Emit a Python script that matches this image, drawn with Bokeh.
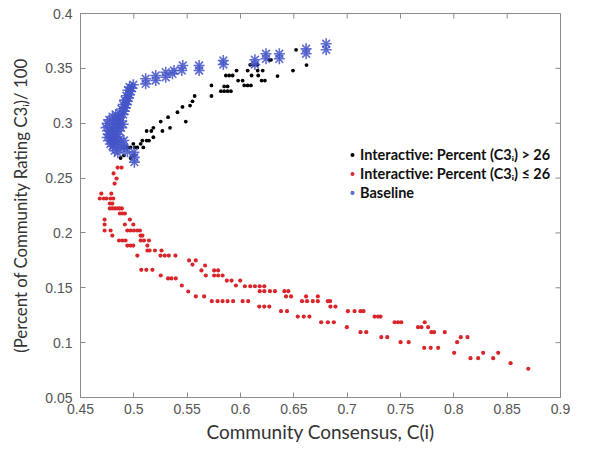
import math
from bokeh.plotting import figure
from bokeh.models import Range1d, FixedTicker, Legend, LegendItem
from bokeh.embed import file_html
from bokeh.resources import INLINE

# ---------------- data ----------------
x_ticks = [0.45, 0.5, 0.55, 0.6, 0.65, 0.7, 0.75, 0.8, 0.85, 0.9]
x_tick_labels = ["0.45", "0.5", "0.55", "0.6", "0.65", "0.7", "0.75", "0.8", "0.85", "0.9"]
y_ticks = [0.05, 0.1, 0.15, 0.2, 0.25, 0.3, 0.35, 0.4]
y_tick_labels = ["0.05", "0.1", "0.15", "0.2", "0.25", "0.3", "0.35", "0.4"]

x_label = "Community Consensus, C(i)"
y_label = "(Percent of Community Rating C3ᵢ)/ 100"
legend_labels = ["Interactive: Percent (C3ᵢ) > 26",
                 "Interactive: Percent (C3ᵢ) ≤ 26",
                 "Baseline"]

black_points = [
    (0.6521, 0.3669), (0.6619, 0.3530), (0.6492, 0.3480), (0.6347, 0.3430),
    (0.6270, 0.3578), (0.6286, 0.3578),
    (0.6091, 0.3532), (0.6126, 0.3532), (0.6159, 0.3532),
    (0.5963, 0.3480), (0.6067, 0.3480), (0.6161, 0.3480), (0.6208, 0.3480),
    (0.5863, 0.3435), (0.5894, 0.3435), (0.5926, 0.3435), (0.6104, 0.3435), (0.6166, 0.3435),
    (0.5978, 0.3389), (0.6020, 0.3389), (0.6198, 0.3389), (0.6229, 0.3389),
    (0.6035, 0.3344), (0.6067, 0.3344), (0.6098, 0.3344), (0.5728, 0.3344),
    (0.5847, 0.3335), (0.5879, 0.3335),
    (0.5816, 0.3292), (0.5847, 0.3292), (0.5879, 0.3292), (0.5910, 0.3292),
    (0.5728, 0.3248), (0.5570, 0.3248),
    (0.5550, 0.3200), (0.5527, 0.3161), (0.5456, 0.3148), (0.5409, 0.3100),
    (0.5487, 0.3015), (0.5321, 0.3055), (0.5252, 0.3015), (0.5339, 0.2958),
    (0.5268, 0.2929), (0.5183, 0.2958), (0.5164, 0.2929), (0.5120, 0.2929),
    (0.5183, 0.2872), (0.5142, 0.2842), (0.5120, 0.2842), (0.5080, 0.2842),
    (0.5064, 0.2812), (0.5033, 0.2779), (0.5089, 0.2779), (0.5010, 0.2779),
    (0.4995, 0.2812), (0.4970, 0.2779), (0.4939, 0.2779), (0.4907, 0.2706),
    (0.4876, 0.2683), (0.5001, 0.2706), (0.4970, 0.2683),
]

red_points = [
    (0.4848, 0.2596), (0.4885, 0.2596), (0.4810, 0.2542), (0.4838, 0.2496), (0.4820, 0.2450),
    (0.4695, 0.2359), (0.4789, 0.2359),
    (0.4681, 0.2314), (0.4719, 0.2314), (0.4744, 0.2314), (0.4782, 0.2314), (0.4807, 0.2314),
    (0.4775, 0.2268), (0.4798, 0.2268),
    (0.4775, 0.2223), (0.4798, 0.2223), (0.4822, 0.2223), (0.4845, 0.2223), (0.4866, 0.2223), (0.4888, 0.2223),
    (0.4869, 0.2177), (0.4892, 0.2177), (0.4916, 0.2177),
    (0.4726, 0.2122), (0.4963, 0.2122),
    (0.4726, 0.2077), (0.4916, 0.2077), (0.4995, 0.2077),
    (0.4726, 0.2022), (0.4782, 0.2022), (0.4939, 0.2022), (0.4970, 0.2022), (0.5001, 0.2022),
    (0.5033, 0.2022), (0.5057, 0.2022),
    (0.4798, 0.1976), (0.5064, 0.1976), (0.5080, 0.1976),
    (0.4861, 0.1931), (0.4892, 0.1931), (0.4923, 0.1931), (0.5064, 0.1931), (0.5095, 0.1931), (0.5142, 0.1931),
    (0.4939, 0.1885), (0.4970, 0.1885), (0.4995, 0.1885), (0.5127, 0.1885),
    (0.5127, 0.1840), (0.5148, 0.1840), (0.5198, 0.1840), (0.5260, 0.1840),
    (0.5033, 0.1794), (0.5250, 0.1794), (0.5290, 0.1794), (0.5328, 0.1794), (0.5390, 0.1794),
    (0.5518, 0.1749), (0.5581, 0.1749), (0.5550, 0.1712), (0.5668, 0.1703), (0.5634, 0.1658),
    (0.5070, 0.1664), (0.5117, 0.1664), (0.5174, 0.1664), (0.5252, 0.1612),
    (0.5321, 0.1585), (0.5352, 0.1585), (0.5393, 0.1585),
    (0.5450, 0.1521), (0.5510, 0.1466), (0.5581, 0.1421),
    (0.5675, 0.1612), (0.5753, 0.1658), (0.5790, 0.1658), (0.5753, 0.1612), (0.5790, 0.1612), (0.5832, 0.1612),
    (0.5872, 0.1566), (0.5916, 0.1566), (0.5997, 0.1566), (0.5957, 0.1521),
    (0.6041, 0.1514), (0.6091, 0.1514), (0.6135, 0.1514), (0.6180, 0.1514), (0.6223, 0.1514),
    (0.6180, 0.1469), (0.6223, 0.1469), (0.6276, 0.1469), (0.6323, 0.1469), (0.6411, 0.1469), (0.6448, 0.1469),
    (0.5659, 0.1421),
    (0.5731, 0.1378), (0.5785, 0.1378), (0.5832, 0.1378), (0.5879, 0.1378), (0.5931, 0.1378),
    (0.6020, 0.1378), (0.6072, 0.1378),
    (0.6176, 0.1329), (0.6223, 0.1329), (0.6270, 0.1329),
    (0.6427, 0.1421), (0.6474, 0.1421), (0.6380, 0.1287), (0.6436, 0.1287),
    (0.6537, 0.1238), (0.6593, 0.1238), (0.6646, 0.1238),
    (0.6577, 0.1378), (0.6624, 0.1378), (0.6678, 0.1378), (0.6725, 0.1378),
    (0.6615, 0.1421), (0.6725, 0.1421), (0.6819, 0.1378), (0.6840, 0.1378),
    (0.6843, 0.1329), (0.6890, 0.1329),
    (0.6756, 0.1186), (0.6819, 0.1186), (0.6875, 0.1186),
    (0.7007, 0.1287), (0.7069, 0.1287), (0.7125, 0.1287), (0.7153, 0.1287),
    (0.6997, 0.1141), (0.7125, 0.1095), (0.7179, 0.1095),
    (0.7257, 0.1238), (0.7289, 0.1238), (0.7313, 0.1238),
    (0.7320, 0.1050), (0.7376, 0.1050),
    (0.7445, 0.1186), (0.7477, 0.1186), (0.7508, 0.1186),
    (0.7501, 0.1004), (0.7577, 0.1004),
    (0.7664, 0.1141), (0.7696, 0.1141), (0.7759, 0.1141), (0.7727, 0.1186),
    (0.7790, 0.1095), (0.7815, 0.1095), (0.7915, 0.1095),
    (0.7722, 0.0953), (0.7783, 0.0953), (0.7853, 0.0953),
    (0.8065, 0.1050), (0.8128, 0.1050), (0.8031, 0.1004), (0.8003, 0.0907),
    (0.8156, 0.0858), (0.8228, 0.0858), (0.8369, 0.0858),
    (0.8275, 0.0907), (0.8416, 0.0907),
    (0.8532, 0.0813), (0.8698, 0.0762),
]

blue_points = [
    # arc towards the right
    (0.6803, 0.3724), (0.6803, 0.3669), (0.6615, 0.3678), (0.6615, 0.3633),
    (0.6364, 0.3633), (0.6364, 0.3587), (0.6239, 0.3633), (0.6239, 0.3587),
    (0.6135, 0.3578), (0.6135, 0.3535), (0.5839, 0.3571), (0.5839, 0.3535),
    (0.5612, 0.3526), (0.5612, 0.3480), (0.5459, 0.3526), (0.5449, 0.3480),
    (0.5377, 0.3480), (0.5362, 0.3450), (0.5299, 0.3465), (0.5299, 0.3419),
    (0.5205, 0.3435), (0.5205, 0.3389), (0.5111, 0.3405), (0.5111, 0.3359),
    # upper band
    (0.4995, 0.3350), (0.4980, 0.3320), (0.4970, 0.3290), (0.4960, 0.3260), (0.4950, 0.3230),
    (0.4940, 0.3200), (0.4930, 0.3170), (0.4920, 0.3140), (0.4910, 0.3110), (0.4900, 0.3080),
    (0.4960, 0.3330), (0.4945, 0.3300), (0.4930, 0.3250), (0.4915, 0.3210), (0.4900, 0.3170),
    (0.4885, 0.3130), (0.4870, 0.3090), (0.4860, 0.3050),
    # dense cluster
    (0.4850, 0.3050), (0.4830, 0.3020), (0.4810, 0.2990), (0.4790, 0.2960), (0.4770, 0.2930),
    (0.4760, 0.2900), (0.4750, 0.2870),
    (0.4880, 0.3020), (0.4860, 0.2990), (0.4840, 0.2960), (0.4820, 0.2930), (0.4800, 0.2900),
    (0.4790, 0.2870), (0.4780, 0.2840),
    (0.4900, 0.2990), (0.4880, 0.2960), (0.4860, 0.2930), (0.4840, 0.2900), (0.4820, 0.2870),
    (0.4810, 0.2840),
    (0.4740, 0.2960), (0.4750, 0.3000), (0.4770, 0.3030), (0.4800, 0.3060), (0.4830, 0.3080),
    (0.4780, 0.2810), (0.4800, 0.2790), (0.4830, 0.2800), (0.4850, 0.2830), (0.4870, 0.2860),
    # tail
    (0.4907, 0.2842), (0.4907, 0.2781), (0.5001, 0.2736), (0.5005, 0.2690), (0.5005, 0.2645),
    (0.4880, 0.2780), (0.4940, 0.2740), (0.4850, 0.2730), (0.4820, 0.2750), (0.4900, 0.2800),
]

black_x = [p[0] for p in black_points]
black_y = [p[1] for p in black_points]
red_x = [p[0] for p in red_points]
red_y = [p[1] for p in red_points]
blue_x = [p[0] for p in blue_points]
blue_y = [p[1] for p in blue_points]

# ---------------- figure ----------------
AX = "#8a8a8a"
TICK_TXT = "#555555"
LABEL_FONT = "Lato"

p = figure(frame_width=480, frame_height=384,
           x_range=Range1d(0.45, 0.9), y_range=Range1d(0.05, 0.4),
           output_backend="svg", toolbar_location=None,
           min_border_left=80, min_border_right=23, min_border_top=13, min_border_bottom=48)
p.grid.visible = False
p.outline_line_color = AX
p.outline_line_width = 1
p.background_fill_color = "white"
p.border_fill_color = "white"

r_black = p.scatter(black_x, black_y, marker="circle", size=3.8, color="black", line_width=0)
r_red = p.scatter(red_x, red_y, marker="circle", size=4.2, color="#d9262b", line_width=0)
r_blue = p.scatter(blue_x, blue_y, marker="asterisk", size=11, line_color="#4455c8",
                   line_width=1.6, line_alpha=0.85)

# inward ticks on the top and right sides of the box
p.scatter(x_ticks, [y_ticks[-1]] * len(x_ticks), marker="dash", angle=math.pi / 2,
          size=10, line_color=AX, line_width=1)
p.scatter([x_ticks[-1]] * len(y_ticks), y_ticks, marker="dash",
          size=10, line_color=AX, line_width=1)

for ax, ticks, labels in ((p.xaxis[0], x_ticks, x_tick_labels), (p.yaxis[0], y_ticks, y_tick_labels)):
    ax.ticker = FixedTicker(ticks=ticks)
    ax.major_label_overrides = {t: l for t, l in zip(ticks, labels)}
    ax.axis_line_color = AX
    ax.major_tick_line_color = AX
    ax.major_tick_in = 5
    ax.major_tick_out = 0
    ax.minor_tick_line_color = None
    ax.major_label_text_font = "Liberation Sans"
    ax.major_label_text_font_size = "14px"
    ax.major_label_text_color = TICK_TXT
    ax.axis_label_text_font = LABEL_FONT
    ax.axis_label_text_font_style = "normal"
    ax.axis_label_text_color = "#333333"

p.xaxis[0].axis_label = x_label
p.yaxis[0].axis_label = y_label
p.xaxis[0].axis_label_text_font_size = "19px"
p.yaxis[0].axis_label_text_font_size = "16.8px"
p.xaxis[0].major_label_standoff = 6
p.xaxis[0].axis_label_standoff = 3
p.yaxis[0].major_label_standoff = 8
p.yaxis[0].axis_label_standoff = 11

legend = Legend(items=[LegendItem(label=legend_labels[0], renderers=[r_black]),
                       LegendItem(label=legend_labels[1], renderers=[r_red]),
                       LegendItem(label=legend_labels[2], renderers=[r_blue])],
                location=(267, 195))
legend.border_line_alpha = 0
legend.background_fill_alpha = 0
legend.padding = 0
legend.margin = 0
legend.spacing = 0
legend.glyph_width = 10
legend.glyph_height = 19
legend.label_height = 19
legend.label_standoff = 3
legend.label_text_font = LABEL_FONT
legend.label_text_font_style = "bold"
legend.label_text_font_size = "14.5px"
legend.label_text_color = "#111111"
p.add_layout(legend, "center")

open("out.html", "w").write(file_html(p, INLINE))
